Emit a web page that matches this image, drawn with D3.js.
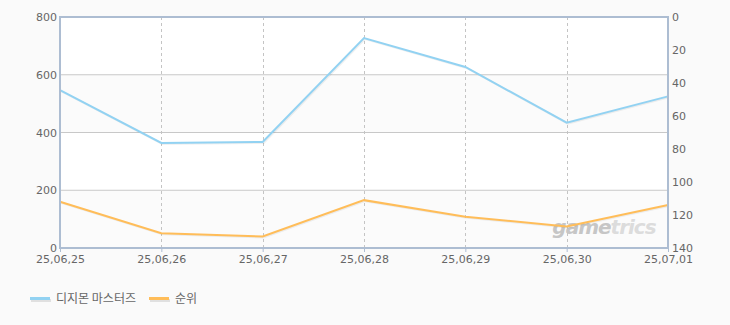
<!DOCTYPE html>
<html>
<head>
<meta charset="utf-8">
<script src="https://cdn.jsdelivr.net/npm/d3@7"></script>
<style>
  body { margin: 0; background: #fafafa; }
  svg { display: block; }
</style>
</head>
<body>
<div id="chart"></div>
<script>
const dates = ["25,06,25", "25,06,26", "25,06,27", "25,06,28", "25,06,29", "25,06,30", "25,07,01"];
const users = [547, 364, 367, 727, 627, 434, 525];
const rank = [112, 131, 133, 111, 121, 127, 114];
const leftTicks = [0, 200, 400, 600, 800];
const rightTicks = [0, 20, 40, 60, 80, 100, 120, 140];
const seriesNames = ["디지몬 마스터즈", "순위"];

const WIDTH = 730, HEIGHT = 325;
const M = { left: 60, right: 62, top: 17, bottom: 77 };
const FONT = "'DejaVu Sans', sans-serif";
const BLUE = "#92d2f2", ORANGE = "#ffbd59", FRAME = "#adbdd2";

const svg = d3.select("#chart").append("svg")
  .attr("width", WIDTH).attr("height", HEIGHT);

const x = d3.scalePoint().domain(dates).range([M.left, WIDTH - M.right]);
const yL = d3.scaleLinear().domain([0, 800]).range([HEIGHT - M.bottom, M.top]);
const yR = d3.scaleLinear().domain([0, 140]).range([M.top, HEIGHT - M.bottom]);

// bands
svg.selectAll("rect.band")
  .data(leftTicks.slice(0, -1))
  .enter().append("rect")
  .attr("x", M.left).attr("width", WIDTH - M.right - M.left)
  .attr("y", d => yL(d + 200)).attr("height", d => yL(d) - yL(d + 200))
  .attr("fill", (d, i) => i % 2 === 0 ? "#fbfbfb" : "#ffffff");

// horizontal grid
svg.selectAll("line.hg")
  .data(leftTicks.slice(1, -1))
  .enter().append("line")
  .attr("x1", M.left).attr("x2", WIDTH - M.right)
  .attr("y1", d => yL(d)).attr("y2", d => yL(d))
  .attr("stroke", "#c8c8c8").attr("stroke-width", 1);

// vertical dashed grid
svg.selectAll("line.vg")
  .data(dates.slice(1, -1))
  .enter().append("line")
  .attr("x1", d => Math.round(x(d)) + 0.5).attr("x2", d => Math.round(x(d)) + 0.5)
  .attr("y1", M.top).attr("y2", HEIGHT - M.bottom)
  .attr("stroke", "#c4c4c4").attr("stroke-dasharray", "3,3");

// watermark
const wm = svg.append("text")
  .attr("x", 604).attr("y", 234)
  .attr("text-anchor", "middle")
  .attr("font-family", "'DejaVu Sans', sans-serif")
  .attr("font-weight", "bold").attr("font-style", "italic")
  .attr("font-size", 20)
  .attr("letter-spacing", -1);
wm.append("tspan").attr("fill", "#c6c6c6").text("game");
wm.append("tspan").attr("fill", "#dcdcdc").text("trics");

// lines with shadow
const lineL = d3.line().x((d, i) => x(dates[i])).y(d => yL(d));
const lineR = d3.line().x((d, i) => x(dates[i])).y(d => yR(d));

[[users, lineL, BLUE], [rank, lineR, ORANGE]].forEach(([data, gen, col]) => {
  svg.append("path").attr("d", gen(data))
    .attr("fill", "none").attr("stroke", "rgba(0,0,0,0.06)").attr("stroke-width", 2)
    .attr("transform", "translate(1,1)");
  svg.append("path").attr("d", gen(data))
    .attr("fill", "none").attr("stroke", col).attr("stroke-width", 2);
});

// frame
svg.append("rect")
  .attr("x", M.left).attr("y", M.top)
  .attr("width", WIDTH - M.right - M.left).attr("height", HEIGHT - M.bottom - M.top)
  .attr("fill", "none").attr("stroke", FRAME).attr("stroke-width", 2);

// axes
const styleAxis = g => {
  g.select(".domain").remove();
  g.selectAll(".tick line").attr("stroke", FRAME);
  g.selectAll(".tick text").attr("fill", "#666").attr("font-family", FONT).attr("font-size", 11);
};

svg.append("g")
  .attr("transform", "translate(" + M.left + ",0)")
  .call(d3.axisLeft(yL).tickValues(leftTicks).tickSize(0).tickPadding(3))
  .call(styleAxis);

svg.append("g")
  .attr("transform", "translate(" + (WIDTH - M.right) + ",0)")
  .call(d3.axisRight(yR).tickValues(rightTicks).tickSize(0).tickPadding(4))
  .call(styleAxis);

svg.append("g")
  .attr("transform", "translate(0," + (HEIGHT - M.bottom) + ")")
  .call(d3.axisBottom(x).tickSize(4).tickPadding(3))
  .call(styleAxis);

// legend
const legend = svg.append("g").attr("transform", "translate(30,298)");
const legX = [0, 119];
seriesNames.forEach((name, i) => {
  const g = legend.append("g").attr("transform", "translate(" + legX[i] + ",0)");
  g.append("rect").attr("x", 1).attr("y", 1).attr("width", 20).attr("height", 3).attr("fill", "#e0e0e0");
  g.append("rect").attr("x", 0).attr("y", -1).attr("width", 20).attr("height", 3).attr("fill", i === 0 ? BLUE : ORANGE);
  g.append("text").attr("x", 26).attr("y", 4.5)
    .attr("font-family", "'Noto Sans CJK KR', sans-serif").attr("font-size", 12)
    .attr("fill", "#666").text(name);
});
</script>
</body>
</html>
